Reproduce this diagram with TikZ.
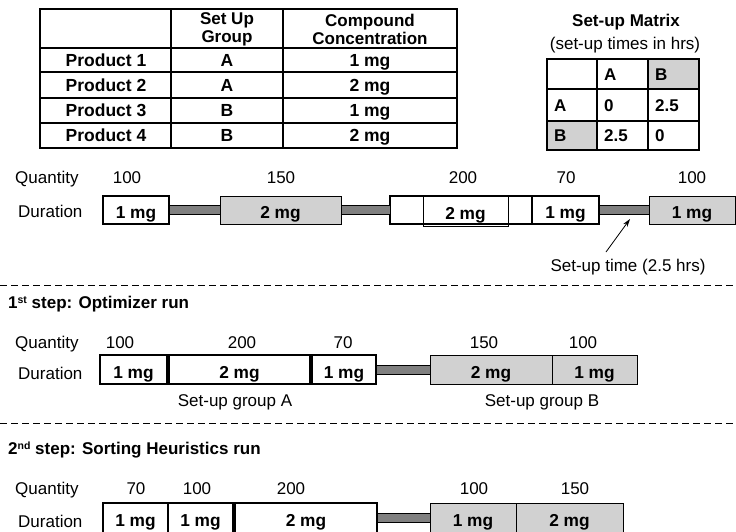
\documentclass[tikz,border=0pt]{standalone}
\usepackage{fontspec}
\setmainfont{Liberation Sans}
\usetikzlibrary{calc,arrows.meta}
\definecolor{boxgray}{gray}{0.82}
\definecolor{bargray}{gray}{0.5}
\newcommand\jobbox[7]{\node[#6, anchor=north west, minimum width={#3pt-#2pt}, minimum height={#5pt-#4pt}] (#1) at (#2,#4) {#7};}
\newcommand\joinbar[2]{\draw[bar] ($(#1.east)+(0,-4.5)$) rectangle ($(#2.west)+(0,4.5)$);}
\begin{document}
\begin{tikzpicture}[x=1pt,y=-1pt,
 txt/.style={inner sep=0pt, text height=12pt, text depth=0pt, font=\fontsize{17}{18}\selectfont},
 btxt/.style={txt, font=\fontsize{17}{18}\selectfont\bfseries},
 tbtxt/.style={txt, font=\fontsize{17.5}{18}\selectfont\bfseries},
 wbox/.style={draw, line width=1.3pt, fill=white, inner sep=0pt, outer sep=0pt, text height=17pt, text depth=0pt, font=\fontsize{17.3}{18}\selectfont\bfseries},
 gbox/.style={wbox, fill=boxgray, line width=1pt},
 bar/.style={draw, line width=0.9pt, fill=bargray},
 gridline/.style={line width=1.2pt},
 sepline/.style={line width=0.8pt, dash pattern=on 7pt off 4pt},
]
\useasboundingbox (0,0) rectangle (736,531);
\fill[white] (0,0) rectangle (736,531);

% ---------- product table ----------
\draw[gridline] (40,9) rectangle (457,148);
\foreach \x in {171,283} \draw[gridline] (\x,9) -- (\x,148);
\foreach \y in {48,72,98,123} \draw[gridline] (40,\y) -- (457,\y);
\node[inner sep=0pt, font=\fontsize{17}{18}\selectfont\bfseries, align=center] (th2) at (227,29) {Set Up\\Group};
\node[inner sep=0pt, font=\fontsize{17}{18}\selectfont\bfseries, align=center] (th3) at (370,29) {Compound\\Concentration};
\node[tbtxt] (p1) at (106,60) {Product 1};
\node[tbtxt] (p2) at (106,85) {Product 2};
\node[tbtxt] (p3) at (106,110.5) {Product 3};
\node[tbtxt] (p4) at (106,135.5) {Product 4};
\node[tbtxt] (g1) at (227,60) {A};
\node[tbtxt] (g2) at (227,85) {A};
\node[tbtxt] (g3) at (227,110.5) {B};
\node[tbtxt] (g4) at (227,135.5) {B};
\node[tbtxt] (c1) at (370,60) {1 mg};
\node[tbtxt] (c2) at (370,85) {2 mg};
\node[tbtxt] (c3) at (370,110.5) {1 mg};
\node[tbtxt] (c4) at (370,135.5) {2 mg};

% ---------- set-up matrix ----------
\node[btxt] (mt) at (626,20) {Set-up Matrix};
\node[txt] (ms) at (625,43) {(set-up times in hrs)};
\fill[boxgray] (648,59) rectangle (699,89);
\fill[boxgray] (547,121) rectangle (597,150);
\draw[gridline, line width=1.5pt] (547,59) rectangle (699,150);
\foreach \x in {597,648} \draw[gridline, line width=1.5pt] (\x,59) -- (\x,150);
\foreach \y in {89,121} \draw[gridline, line width=1.5pt] (547,\y) -- (699,\y);
\node[btxt, anchor=west] (m01) at (604,74) {A};
\node[btxt, anchor=west] (m02) at (655,74) {B};
\node[btxt, anchor=west] (m10) at (554,105) {A};
\node[btxt, anchor=west] (m11) at (604,105) {0};
\node[btxt, anchor=west] (m12) at (655,105) {2.5};
\node[btxt, anchor=west] (m20) at (554,135.5) {B};
\node[btxt, anchor=west] (m21) at (604,135.5) {2.5};
\node[btxt, anchor=west] (m22) at (655,135.5) {0};

% ---------- row 1: initial sequence ----------
\node[txt, anchor=west] (q1) at (15,177) {Quantity};
\node[txt, anchor=west] (d1) at (18,211) {Duration};
\jobbox{r1a}{103}{169}{196}{224}{wbox}{1 mg}
\jobbox{r1b}{220}{341}{196}{224}{gbox}{2 mg}
\jobbox{r1c}{390}{532}{196}{224}{wbox}{}
\jobbox{r1ci}{423}{508}{196}{226}{wbox, fill=none, line width=0.8pt}{2 mg}
\jobbox{r1d}{532}{599}{196}{224}{wbox}{1 mg}
\jobbox{r1e}{649}{735}{196}{224}{gbox}{1 mg}
\joinbar{r1a}{r1b}
\joinbar{r1b}{r1c}
\joinbar{r1d}{r1e}
\node[txt] (q1a) at (127,177) {100};
\node[txt] (q1b) at (281,177) {150};
\node[txt] (q1c) at (463,177) {200};
\node[txt] (q1d) at (566,177) {70};
\node[txt] (q1e) at (692,177) {100};
\node[txt] (st) at (628,265) {Set-up time (2.5 hrs)};
\coordinate (atail) at (606,252);
\coordinate (atip) at (630,219);
\draw[line width=0.8pt, -{Stealth[length=8pt,width=5pt]}] (atail) -- (atip);

% ---------- separator 1 ----------
\coordinate (s1a) at (0,285);
\coordinate (s1b) at (736,285);
\draw[sepline] (s1a) -- (s1b);
\node[btxt, anchor=west] (h1) at (8,302) {1\raisebox{0.55ex}{\fontsize{10.5}{10}\selectfont st} step: Optimizer run};

% ---------- row 2: optimizer ----------
\node[txt, anchor=west] (q2) at (15,342) {Quantity};
\node[txt, anchor=west] (d2) at (18,373) {Duration};
\jobbox{r2a}{100}{167}{355}{384}{wbox}{1 mg}
\jobbox{r2b}{169}{310}{355}{384}{wbox}{2 mg}
\jobbox{r2c}{312}{376}{355}{384}{wbox}{1 mg}
\jobbox{r2d}{430}{552}{355}{384}{gbox}{2 mg}
\jobbox{r2e}{552}{637}{355}{384}{gbox}{1 mg}
\joinbar{r2c}{r2d}
\node[txt] (q2a) at (120,342) {100};
\node[txt] (q2b) at (242,342) {200};
\node[txt] (q2c) at (343,342) {70};
\node[txt] (q2d) at (484,342) {150};
\node[txt] (q2e) at (583,342) {100};
\node[txt] (ga) at (235,400) {Set-up group A};
\node[txt] (gb) at (542,400) {Set-up group B};

% ---------- separator 2 ----------
\coordinate (s2a) at (0,423);
\coordinate (s2b) at (736,423);
\draw[sepline] (s2a) -- (s2b);
\node[btxt, anchor=west] (h2) at (8,448) {2\raisebox{0.55ex}{\fontsize{10.5}{10}\selectfont nd} step: Sorting Heuristics run};

% ---------- row 3: sorting heuristics ----------
\node[txt, anchor=west] (q3) at (15,488) {Quantity};
\node[txt, anchor=west] (d3) at (18,521) {Duration};
\jobbox{r3a}{103}{168}{503}{533}{wbox}{1 mg}
\jobbox{r3b}{168}{233}{503}{533}{wbox}{1 mg}
\jobbox{r3c}{235}{377}{503}{533}{wbox}{2 mg}
\jobbox{r3d}{430}{516}{503}{533}{gbox}{1 mg}
\jobbox{r3e}{516}{623}{503}{533}{gbox}{2 mg}
\joinbar{r3c}{r3d}
\node[txt] (q3a) at (136,488) {70};
\node[txt] (q3b) at (197,488) {100};
\node[txt] (q3c) at (291,488) {200};
\node[txt] (q3d) at (474,488) {100};
\node[txt] (q3e) at (575,488) {150};
\end{tikzpicture}
\end{document}
